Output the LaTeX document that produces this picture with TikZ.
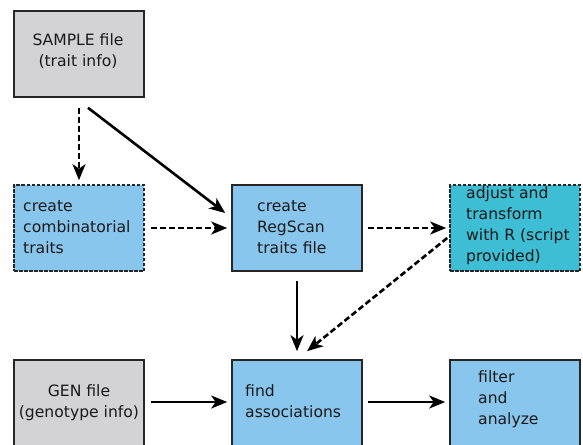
\documentclass[tikz,border=0pt]{standalone}
\usepackage{fontspec}
\setmainfont{DejaVu Sans}
\usetikzlibrary{arrows.meta,calc}
\definecolor{boxgray}{RGB}{211,211,214}
\definecolor{boxblue}{RGB}{136,198,237}
\definecolor{boxteal}{RGB}{62,190,212}
\definecolor{txt}{RGB}{25,25,25}
\begin{document}
\begin{tikzpicture}[x=1pt,y=-1pt,
  box/.style={draw=black!85,line width=1.6pt,minimum width=130pt,minimum height=86pt,inner sep=0pt},
  dbox/.style={box,dash pattern=on 3.5pt off 1.5pt},
  lbl/.style={font=\fontsize{15.6}{21}\selectfont,text=txt,inner sep=0pt},
  arr/.style={line width=2.6pt,-{Stealth[length=16pt,width=13pt,inset=4.5pt]}},
  darr/.style={arr,dash pattern=on 6pt off 3pt}]
\useasboundingbox (0,0) rectangle (583,444);
% boxes
\node[box,fill=boxgray] (sample) at (79,54) {};
\node[dbox,fill=boxblue] (comb) at (79,228) {};
\node[box,fill=boxblue] (reg) at (297,228) {};
\node[dbox,fill=boxteal] (adj) at (515,228) {};
\node[box,fill=boxgray] (gen) at (79,403) {};
\node[box,fill=boxblue] (find) at (297,403) {};
\node[box,fill=boxblue] (filt) at (515,403) {};
% texts
\node[lbl,align=center] (tsample) at (78,51) {SAMPLE file\\(trait info)};
\node[lbl,align=left,anchor=west] (tcomb) at (23,227) {create\\combinatorial\\traits};
\node[lbl,align=left,anchor=west] (treg) at (257,227) {create\\RegScan\\traits file};
\node[lbl,align=left,anchor=west] (tadj) at (466,226) {adjust and\\transform\\with R (script\\provided)};
\node[lbl,align=center] (tgen) at (79,403) {GEN file\\(genotype info)};
\node[lbl,align=left,anchor=west] (tfind) at (245,401) {find\\associations};
\node[lbl,align=left,anchor=west] (tfilt) at (478,399) {filter\\and\\analyze};
% connectors
\draw[darr] ($(sample.south)+(0,10)$) -- ($(comb.north)+(0,-4)$);
\draw[arr] ($(sample.south)+(9,10)$) -- ($(reg.west)+(-6,-15)$);
\draw[darr] ($(comb.east)+(6,0)$) -- ($(reg.west)+(-4,0)$);
\draw[darr] ($(reg.east)+(5,0)$) -- ($(adj.west)+(-3,0)$);
\draw[arr] ($(reg.south)+(0,9)$) -- ($(find.north)+(0,-8)$);
\draw[darr] ($(adj.west)+(-2,10)$) -- ($(find.north)+(10,-8)$);
\draw[arr] ($(gen.east)+(6,-1)$) -- ($(find.west)+(-4,-1)$);
\draw[arr] ($(find.east)+(5,-1)$) -- ($(filt.west)+(-4,-1)$);
\end{tikzpicture}
\end{document}
